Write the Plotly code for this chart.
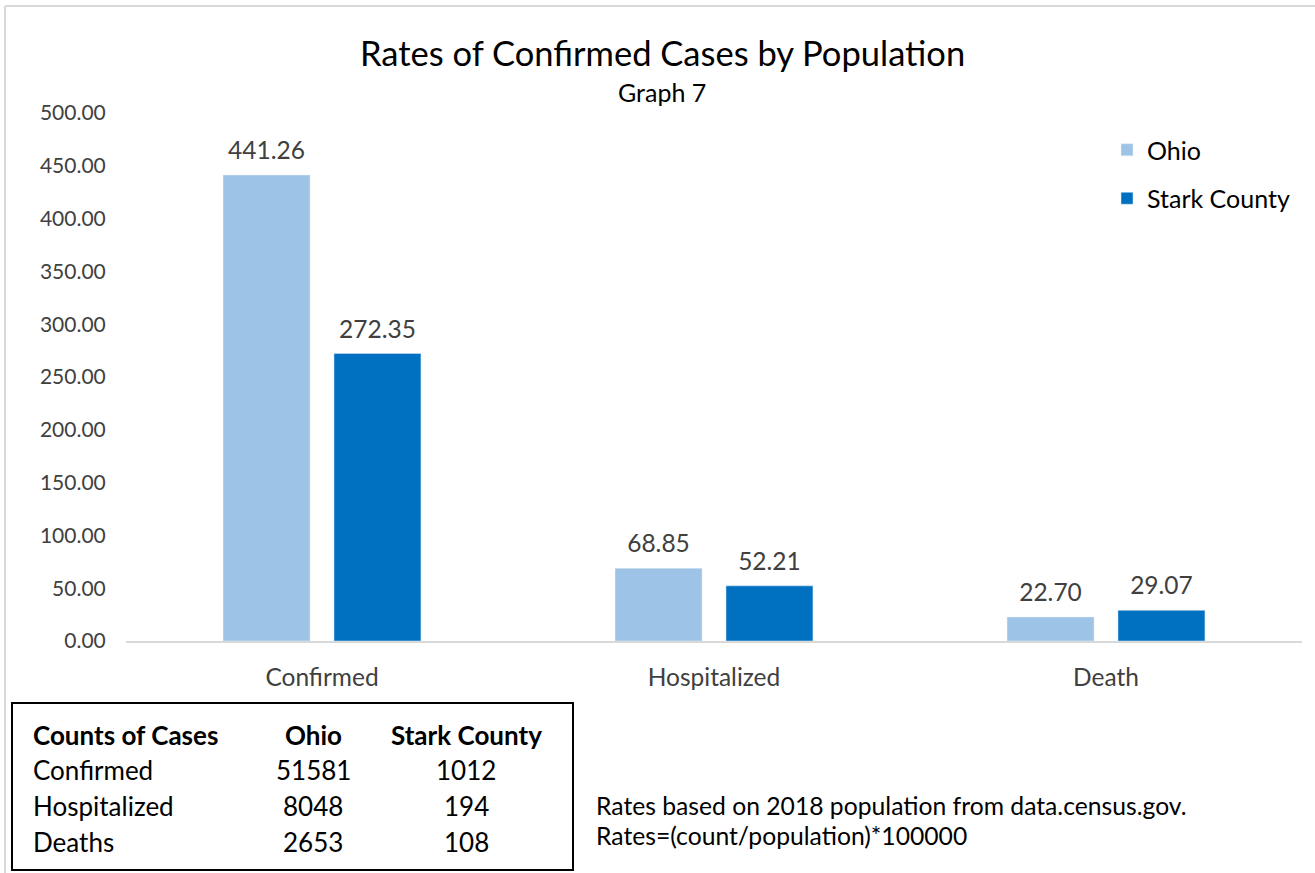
import plotly.graph_objects as go

categories = ["Confirmed", "Hospitalized", "Death"]
ohio_rates = [441.26, 68.85, 22.70]
stark_rates = [272.35, 52.21, 29.07]

table_header = ["Counts of Cases", "Ohio", "Stark County"]
table_rows = ["Confirmed", "Hospitalized", "Deaths"]
ohio_counts = [51581, 8048, 2653]
stark_counts = [1012, 194, 108]

note_lines = ["Rates based on 2018 population from data.census.gov.",
              "Rates=(count/population)*100000"]

FONT = "Lato"
TXT = "#404040"
W, H = 1315, 873
L, R, T, B = 126, 13, 113, 232
PW, PH = W - L - R, H - T - B


def px(x):
    return (x - L) / PW


def py(y):
    return (H - B - y) / PH


fig = go.Figure()
fig.add_trace(go.Bar(
    name="Ohio", x=categories, y=ohio_rates, marker_color="#9DC3E6",
    legendgroup="a", offsetgroup="a", hoverinfo="skip"))
fig.add_trace(go.Bar(
    name="Stark County", x=categories, y=stark_rates, marker_color="#0070C0",
    legendgroup="b", offsetgroup="b", hoverinfo="skip"))
# data labels
for vals, g in [(ohio_rates, "a"), (stark_rates, "b")]:
    fig.add_trace(go.Scatter(
        x=categories, y=vals, mode="markers+text",
        text=[f"{v:.2f}" for v in vals], textposition="top center",
        textfont=dict(size=24.5, color=TXT, family=FONT),
        marker=dict(size=14, opacity=0), offsetgroup=g, showlegend=False,
        cliponaxis=False, hoverinfo="skip"))

ann = []
ann.append(dict(text="Rates of Confirmed Cases by Population", x=px(662), y=py(52),
                xref="paper", yref="paper", showarrow=False, yanchor="middle",
                font=dict(size=34.5, color="#000000", family=FONT)))
ann.append(dict(text="Graph 7", x=px(662), y=py(92), xref="paper", yref="paper",
                showarrow=False, yanchor="middle",
                font=dict(size=25, color="#000000", family=FONT)))

# table
row_y = [735, 770, 806, 842]
col_x = [31, 313, 466]
for j, h in enumerate(table_header):
    ann.append(dict(text=f"<b>{h}</b>", x=px(col_x[j]), y=py(row_y[0]),
                    xref="paper", yref="paper", showarrow=False, yanchor="middle",
                    xanchor="left" if j == 0 else "center",
                    font=dict(size=26, color="#000000", family=FONT)))
for i, r in enumerate(table_rows):
    vals = [r, str(ohio_counts[i]), str(stark_counts[i])]
    for j, v in enumerate(vals):
        ann.append(dict(text=v, x=px(col_x[j]), y=py(row_y[i + 1]),
                        xref="paper", yref="paper", showarrow=False, yanchor="middle",
                        xanchor="left" if j == 0 else "center",
                        font=dict(size=26, color="#000000", family=FONT)))
for k, line in enumerate(note_lines):
    ann.append(dict(text=line, x=px(594), y=py(805 + 30 * k), xref="paper",
                    yref="paper", showarrow=False, xanchor="left", yanchor="middle",
                    font=dict(size=24.7, color="#000000", family=FONT)))

shapes = [
    dict(type="rect", xref="paper", yref="paper", x0=px(12), x1=px(573),
         y0=py(870), y1=py(703), line=dict(color="#000000", width=2)),
    dict(type="line", xref="paper", yref="paper", x0=px(5), x1=px(5),
         y0=py(6), y1=py(880), line=dict(color="#D9D9D9", width=2)),
    dict(type="line", xref="paper", yref="paper", x0=px(5), x1=px(1320),
         y0=py(6), y1=py(6), line=dict(color="#D9D9D9", width=2)),
]

fig.update_layout(
    width=W, height=H,
    margin=dict(l=L, r=R, t=T, b=B),
    paper_bgcolor="white", plot_bgcolor="white",
    barmode="group", bargap=0.434, bargroupgap=0.216,
    scattermode="group", scattergap=0.434,
    font=dict(family=FONT, color=TXT),
    showlegend=True,
    legend=dict(x=px(1107), y=py(127), xanchor="left", yanchor="top",
                font=dict(size=25, color="#000000", family=FONT),
                tracegroupgap=13, traceorder="grouped", bgcolor="rgba(0,0,0,0)"),
    annotations=ann, shapes=shapes,
    xaxis=dict(showline=True, linecolor="#D9D9D9", linewidth=1.5, ticks="outside",
               ticklen=14, tickcolor="rgba(0,0,0,0)",
               tickfont=dict(size=24.5, color=TXT, family=FONT), showgrid=False),
    yaxis=dict(range=[0, 500], dtick=50, tickformat=".2f", showgrid=False,
               zeroline=False, showline=False, ticks="outside", ticklen=15,
               tickcolor="rgba(0,0,0,0)",
               tickfont=dict(size=21, color=TXT, family=FONT)),
)

fig.write_html("out.html", config={"displayModeBar": False},
               post_script="document.body.style.margin='0px';")
